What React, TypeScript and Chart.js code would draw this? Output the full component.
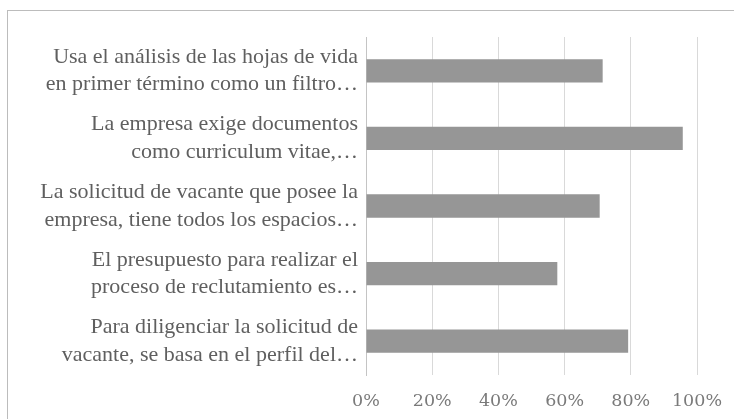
import { useEffect, useRef } from "react";
import { Chart, registerables } from "chart.js";

Chart.register(...registerables);

const categories: string[][] = [
  ["Usa el análisis de las hojas de vida", "en primer término como un filtro…"],
  ["La empresa exige documentos", "como curriculum vitae,…"],
  ["La solicitud de vacante que posee la", "empresa, tiene todos los espacios…"],
  ["El presupuesto para realizar el", "proceso de reclutamiento es…"],
  ["Para diligenciar la solicitud de", "vacante, se basa en el perfil del…"],
];

const values: number[] = [0.715, 0.957, 0.706, 0.578, 0.792];

const tickLabels: string[] = ["0%", "20%", "40%", "60%", "80%", "100%"];

export default function App() {
  const ref = useRef<HTMLCanvasElement>(null);

  useEffect(() => {
    document.body.style.margin = "0";
    document.body.style.overflow = "hidden";
    const chart = new Chart(ref.current!, {
      type: "bar",
      data: {
        labels: categories,
        datasets: [
          {
            data: values,
            backgroundColor: "#969696",
            borderWidth: 0,
            barPercentage: 0.345,
            categoryPercentage: 1,
          },
        ],
      },
      options: {
        indexAxis: "y",
        responsive: false,
        maintainAspectRatio: false,
        animation: false,
        layout: { padding: { top: 37, right: 37, left: 8, bottom: 0 } },
        plugins: { legend: { display: false }, tooltip: { enabled: false } },
        scales: {
          x: {
            min: 0,
            max: 1,
            ticks: {
              stepSize: 0.2,
              callback: (v: any) => tickLabels[Math.round(Number(v) * 5)],
              font: { family: "DejaVu Serif", size: 17.5 },
              color: "#7a7a7a",
              padding: 16,
            },
            grid: { color: "#d9d9d9", drawTicks: false },
            border: { display: false },
            afterFit: (s: any) => {
              s.height = 44;
              s.paddingLeft = 0;
              s.paddingRight = 0;
            },
          },
          y: {
            ticks: {
              font: { family: "Liberation Serif", size: 22, lineHeight: 1.25 },
              color: "#5f5f5f",
              padding: 8,
            },
            grid: { display: false, drawTicks: false },
            border: { display: true, color: "#c4c4c4" },
            afterFit: (s: any) => {
              s.width = 358;
              s.paddingTop = 0;
              s.paddingBottom = 0;
            },
          },
        },
      },
    });
    return () => chart.destroy();
  }, []);

  return (
    <div
      style={{
        position: "fixed",
        left: 0,
        top: 0,
        width: 734,
        height: 419,
        overflow: "hidden",
        background: "#fff",
      }}
    >
      <div
        style={{
          position: "absolute",
          left: 7,
          top: 10,
          width: 760,
          height: 500,
          border: "1px solid #bcbcbc",
        }}
      />
      <canvas
        ref={ref}
        width={734}
        height={419}
        style={{ position: "absolute", left: 0, top: 0 }}
      />
    </div>
  );
}
